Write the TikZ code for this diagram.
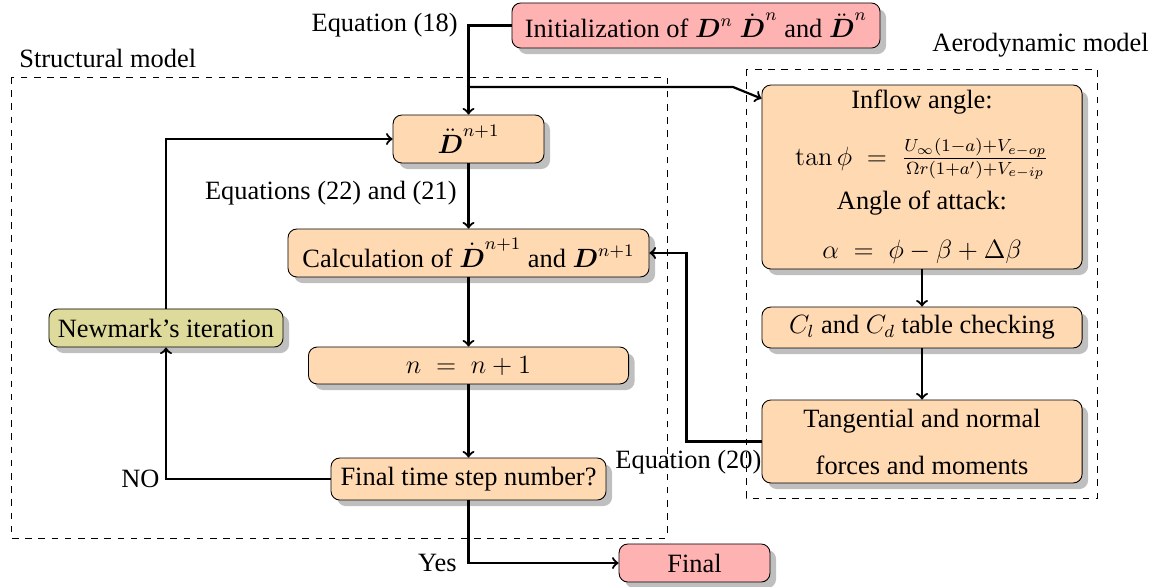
\documentclass[12pt,tikz,border=0pt]{standalone}
\usepackage{amsmath,amssymb}
\usepackage[no-math]{fontspec}
\setmainfont{Liberation Serif}
\usetikzlibrary{shadows,calc}
\begin{document}
\begin{tikzpicture}[x=0.454545pt,y=-0.454545pt,
  box/.style={draw, rounded corners=4pt, drop shadow, inner sep=0pt, align=center, fill=orange!30},
  pinkbox/.style={box, fill=red!30},
  olivebox/.style={box, fill=olive!30},
  arr/.style={->, line width=1pt},
  region/.style={draw, dashed},
  lbl/.style={inner sep=0pt}]
\useasboundingbox (0,0) rectangle (1157,586);

% regions
\draw[region] (11,77) rectangle (667,538);
\draw[region] (746,69) rectangle (1097,498);
\node[lbl, anchor=west] (smodel) at (19,58) {Structural model};
\node[lbl, anchor=west] (amodel) at (932,45) {Aerodynamic model};

% nodes
\node[pinkbox, minimum width=167.3pt, minimum height=20.5pt] (init) at (696,25.5)
  {Initialization of $\boldsymbol{D}^n$ $\dot{\boldsymbol{D}}^n$ and $\ddot{\boldsymbol{D}}^n$};
\node[box, minimum width=68.6pt, minimum height=21.8pt] (dd) at (468.5,139)
  {$\ddot{\boldsymbol{D}}^{n+1}$};
\node[box, minimum width=164.1pt, minimum height=21.8pt] (calc) at (468.5,253)
  {Calculation of $\dot{\boldsymbol{D}}^{n+1}$ and $\boldsymbol{D}^{n+1}$};
\node[box, minimum width=145.5pt, minimum height=16.8pt] (nn) at (468.5,365.5)
  {$n\;=\;n+1$};
\node[box, minimum width=125pt, minimum height=19.1pt] (fstep) at (468.5,479)
  {Final time step number?};
\node[olivebox, minimum width=106.4pt, minimum height=17.3pt] (newmark) at (166,328)
  {Newmark's iteration};
\node[pinkbox, minimum width=68.6pt, minimum height=17.3pt] (final) at (694.5,563)
  {Final};
\node[box, minimum width=145.5pt, minimum height=83.6pt] (inflow) at (922,177)
  {Inflow angle:\\[10pt]
   $\tan\phi\;=\;\frac{U_\infty(1-a)+V_{e-op}}{\Omega r(1+a')+V_{e-ip}}$\\[4.3pt]
   Angle of attack:\\[7.8pt]
   $\alpha\;=\;\phi-\beta+\Delta\beta$};
\node[box, minimum width=145.5pt, minimum height=18.6pt] (cl) at (922,327.5)
  {$C_l$ and $C_d$ table checking};
\node[box, minimum width=145.5pt, minimum height=37.7pt] (tang) at (922,441.5)
  {Tangential and normal\\[6.9pt]forces and moments};

% labels
\node[lbl, anchor=east] (eq18) at (458,25) {Equation (18)};
\node[lbl, anchor=east] (eq2221) at (457,193) {Equations (22) and (21)};
\node[lbl, anchor=east] (no) at (160,479) {NO};
\node[lbl, anchor=east] (yes) at (457,563) {Yes};
\node[lbl, anchor=west] (eq20) at (615,462) {Equation (20)};

% connectors
\coordinate (br) at (468.5,87);
\coordinate (bend) at (733,87);
\draw[arr] (init.west) -| (dd.north);
\draw[arr] (br) -- (bend) -- ($(inflow.north west)+(0,14)$);
\draw[arr] (dd.south) -- (calc.north);
\draw[arr] (calc.south) -- (nn.north);
\draw[arr] (nn.south) -- (fstep.north);
\draw[arr] (newmark.north) |- (dd.west);
\draw[arr] (fstep.west) -| (newmark.south);
\draw[arr] (fstep.south) |- (final.west);
\draw[arr] (inflow.south) -- (cl.north);
\draw[arr] (cl.south) -- (tang.north);
\draw[arr] (tang.west) -- ++(-75,0) |- (calc.east);
\end{tikzpicture}
\end{document}
